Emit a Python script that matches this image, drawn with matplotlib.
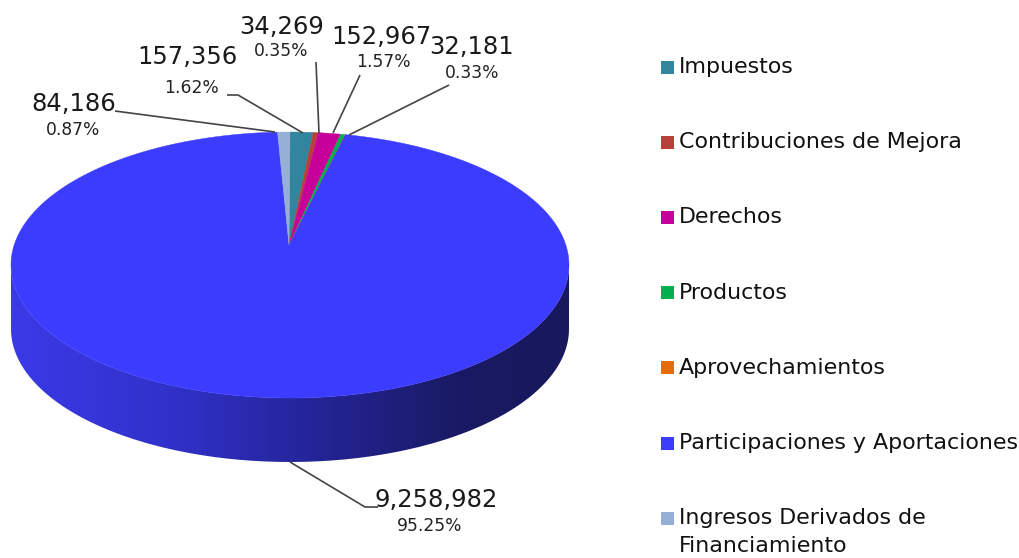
import numpy as np
import matplotlib
matplotlib.use("Agg")
import matplotlib.pyplot as plt
from matplotlib.patches import Polygon, PathPatch, Rectangle
from matplotlib.path import Path

categories = ["Impuestos", "Contribuciones de Mejora", "Derechos", "Productos",
              "Aprovechamientos", "Participaciones y Aportaciones",
              "Ingresos Derivados de\nFinanciamiento"]
values = [157356, 34269, 152967, 32181, 1000, 9258982, 84186]
colors = ["#31859C", "#B8403A", "#C8009A", "#00B050", "#E46C0A", "#3C3CFF", "#95AFD6"]

FONT = {"family": "DejaVu Sans"}
W, H = 1019, 558
CX, CY, RX, RY = 290, 265, 279, 133   # top ellipse
APEX = (289, 245)
DEPTH = 64
K = 0.82                              # foreshortening of small slices at the rear

fig = plt.figure(figsize=(W / 100, H / 100), dpi=100)
ax = fig.add_axes([0, 0, 1, 1])
ax.set_xlim(0, W)
ax.set_ylim(H, 0)
ax.axis("off")

def rim(theta):
    """theta: degrees clockwise from the top of the ellipse"""
    t = np.radians(theta)
    return np.column_stack([CX + RX * np.sin(t), CY - RY * np.cos(t)])

# side wall with horizontal gradient
t = np.linspace(90, 270, 200)
upper = rim(t)
lower = upper[::-1] + [0, DEPTH]
side = np.vstack([upper, lower, upper[:1]])
clip = PathPatch(Path(side), transform=ax.transData, fc="none", ec="none")
ax.add_patch(clip)
stops = np.array([[58, 58, 232], [48, 48, 200], [36, 36, 150], [26, 26, 100], [24, 24, 92]]) / 255
grad = np.array([np.interp(np.linspace(0, 1, 256), [0, .3, .55, .8, 1], stops[:, i]) for i in range(3)]).T[None, :, :]
im = ax.imshow(grad, extent=(CX - RX, CX + RX, CY + RY + DEPTH, CY), aspect="auto", zorder=1)
im.set_clip_path(clip)
ax.set_xlim(0, W)
ax.set_ylim(H, 0)

# top face
frac = np.array(values) / sum(values)
big = int(np.argmax(frac))
cum = np.concatenate([[0], np.cumsum(frac)])
def angle(f, i):
    return 360 - K * 360 * (1 - f) if i > big else K * 360 * f
for i, c in enumerate(colors):
    a0 = angle(cum[i], i)
    a1 = angle(cum[i + 1], i + 1)
    arc = rim(np.linspace(a0, a1, max(4, int(abs(a1 - a0) * 2))))
    ax.add_patch(Polygon(np.vstack([[APEX], arc]), closed=True, fc=c, ec=c, lw=0.3, zorder=2))

# data labels
total = sum(values)
label_pos = {0: (187, 57, 192, 88), 1: (282, 27, 281, 51), 2: (382, 37, 383, 62),
             3: (472, 47, 472, 73), 5: (436, 500, 430, 526), 6: (74, 104, 73, 130)}
leaders = {0: [(227, 95), (238, 95), (303, 133)], 1: [(316, 62), (319, 133)],
           2: [(360, 75), (333, 133)], 3: [(449, 85), (349, 135)],
           5: [(378, 507), (365, 507), (290, 462)], 6: [(115, 111), (130, 113), (275, 132)]}
for i, (x1, y1, x2, y2) in label_pos.items():
    ax.text(x1, y1, f"{values[i]:,}", ha="center", va="center", fontsize=17.5, color="#1a1a1a", **FONT)
    ax.text(x2, y2, f"{values[i] / total:.2%}", ha="center", va="center", fontsize=12.3, color="#222222", **FONT)
    xs, ys = zip(*leaders[i])
    ax.plot(xs, ys, color="#444444", lw=1.2, zorder=3, solid_capstyle="butt")

# legend
for i, (name, c) in enumerate(zip(categories, colors)):
    y = 67 + 75.2 * i
    ax.add_patch(Rectangle((661, y - 6.5), 13, 13, fc=c, ec="none", zorder=3))
    ax.text(679, y - 10, name, ha="left", va="top", fontsize=15.9, color="#111111",
            linespacing=1.5, **FONT)

fig.savefig("out.png", dpi=100, facecolor="white")
